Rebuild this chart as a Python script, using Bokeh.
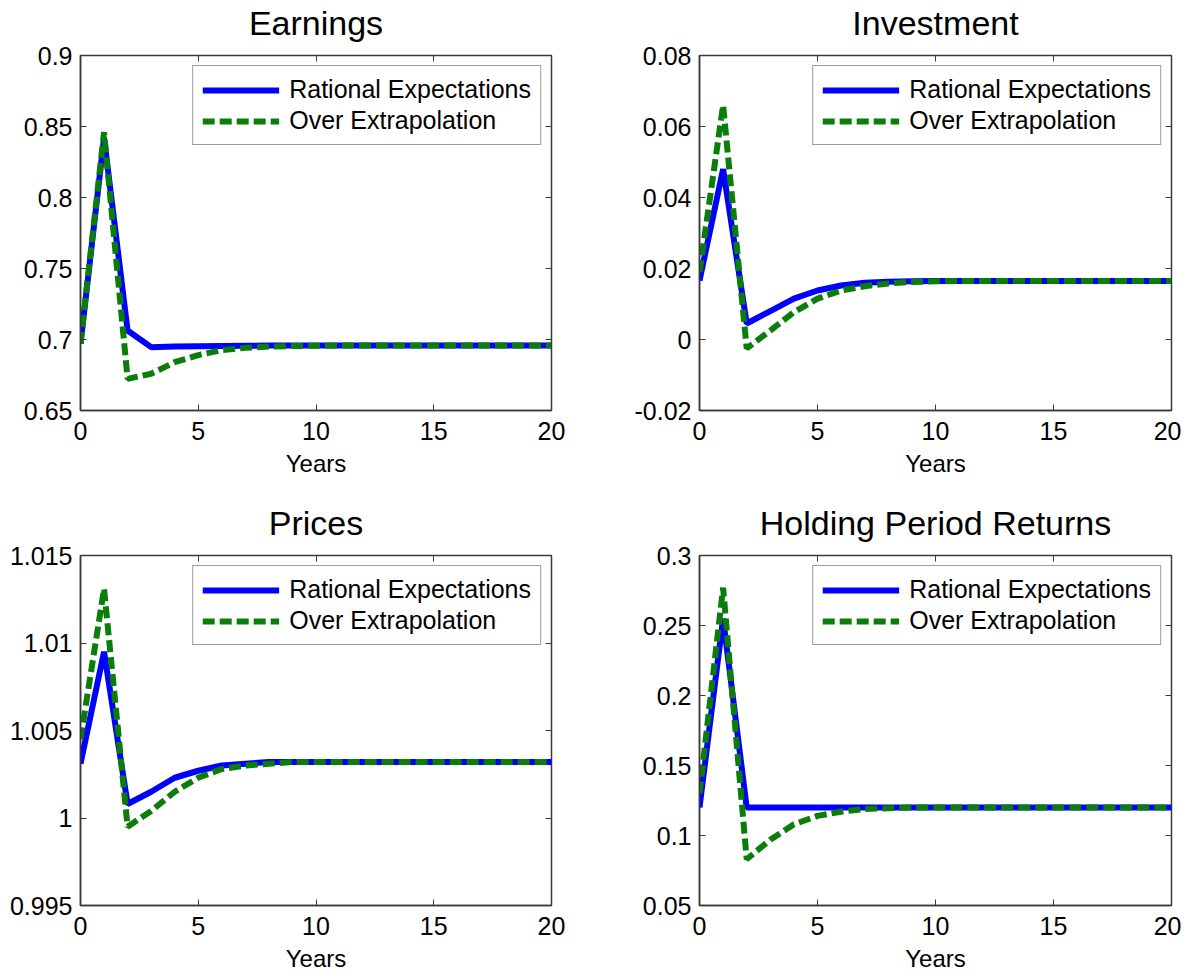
from bokeh.plotting import figure
from bokeh.models import FixedTicker, LinearAxis, Legend, LegendItem, Range1d, CustomLabelingPolicy
from bokeh.layouts import column, row
from bokeh.embed import file_html
from bokeh.resources import INLINE

years = list(range(21))

earn_re = [0.697, 0.842, 0.7063, 0.6946, 0.6950, 0.6953, 0.6955, 0.6956, 0.6957, 0.6957, 0.6958,
           0.6958, 0.6958, 0.6958, 0.6958, 0.6958, 0.6958, 0.6958, 0.6958, 0.6958, 0.6958]
earn_oe = [0.697, 0.846, 0.6723, 0.6759, 0.684, 0.689, 0.6925, 0.6941, 0.6950, 0.6954, 0.6956,
           0.6957, 0.6958, 0.6958, 0.6958, 0.6958, 0.6958, 0.6958, 0.6958, 0.6958, 0.6958]

inv_re = [0.0166, 0.048, 0.0045, 0.0080, 0.0115, 0.0138, 0.0152, 0.0160, 0.0163, 0.0164, 0.0165,
          0.0165, 0.0165, 0.0165, 0.0165, 0.0165, 0.0165, 0.0165, 0.0165, 0.0165, 0.0165]
inv_oe = [0.019, 0.066, -0.0025, 0.0025, 0.0077, 0.0115, 0.0138, 0.0150, 0.0158, 0.0162, 0.0164,
          0.0165, 0.0165, 0.0165, 0.0165, 0.0165, 0.0165, 0.0165, 0.0165, 0.0165, 0.0165]

price_re = [1.0031, 1.0095, 1.0008, 1.0015, 1.0023, 1.0027, 1.0030, 1.0031, 1.0032, 1.0032, 1.0032,
            1.0032, 1.0032, 1.0032, 1.0032, 1.0032, 1.0032, 1.0032, 1.0032, 1.0032, 1.0032]
price_oe = [1.0045, 1.0131, 0.9995, 1.0004, 1.0015, 1.0023, 1.0028, 1.0030, 1.0031, 1.0032, 1.0032,
            1.0032, 1.0032, 1.0032, 1.0032, 1.0032, 1.0032, 1.0032, 1.0032, 1.0032, 1.0032]

hpr_re = [0.120, 0.255, 0.120, 0.120, 0.120, 0.120, 0.120, 0.120, 0.120, 0.120, 0.120,
          0.120, 0.120, 0.120, 0.120, 0.120, 0.120, 0.120, 0.120, 0.120, 0.120]
hpr_oe = [0.130, 0.277, 0.083, 0.097, 0.108, 0.114, 0.117, 0.119, 0.1195, 0.120, 0.120,
          0.120, 0.120, 0.120, 0.120, 0.120, 0.120, 0.120, 0.120, 0.120, 0.120]

x_ticks = [0, 5, 10, 15, 20]
x_tick_labels = ["0", "5", "10", "15", "20"]

earn_ticks = [0.65, 0.7, 0.75, 0.8, 0.85, 0.9]
earn_labels = ["0.65", "0.7", "0.75", "0.8", "0.85", "0.9"]
inv_ticks = [-0.02, 0.0, 0.02, 0.04, 0.06, 0.08]
inv_labels = ["-0.02", "0", "0.02", "0.04", "0.06", "0.08"]
price_ticks = [0.995, 1.0, 1.005, 1.01, 1.015]
price_labels = ["0.995", "1", "1.005", "1.01", "1.015"]
hpr_ticks = [0.05, 0.1, 0.15, 0.2, 0.25, 0.3]
hpr_labels = ["0.05", "0.1", "0.15", "0.2", "0.25", "0.3"]

titles = ["Earnings", "Investment", "Prices", "Holding Period Returns"]
series_names = ["Rational Expectations", "Over Extrapolation"]

FONT = "Liberation Sans"
FRAME = "#3a3a3a"
BLUE = "#0000FF"
GREEN = "#0A7D0A"

NO_LABELS = CustomLabelingPolicy(
    code="const n = indices.size; for (let i = 0; i < n; i++) { indices.unset(i) } return indices")


def panel(title, re, oe, yt, yl, w, h, bl, br, bt, bb):
    p = figure(width=w, height=h, output_backend="svg", toolbar_location=None,
               x_range=Range1d(0, 20), y_range=Range1d(yt[0], yt[-1]),
               min_border_left=bl, min_border_right=br, min_border_top=bt, min_border_bottom=bb)
    p.xgrid.visible = False
    p.ygrid.visible = False
    p.outline_line_color = FRAME
    p.outline_line_width = 1.5
    p.background_fill_color = "white"
    p.border_fill_color = "white"

    xa = p.xaxis[0]
    ya = p.yaxis[0]
    xa.ticker = FixedTicker(ticks=x_ticks)
    xa.major_label_overrides = {t: l for t, l in zip(x_ticks, x_tick_labels)}
    ya.ticker = FixedTicker(ticks=yt)
    ya.major_label_overrides = {t: l for t, l in zip(yt, yl)}
    for ax in (xa, ya):
        ax.major_tick_in = 6
        ax.major_tick_out = 0
        ax.minor_tick_in = 0
        ax.minor_tick_out = 0
        ax.major_tick_line_color = FRAME
        ax.axis_line_color = FRAME
        ax.axis_line_width = 1.5
        ax.major_label_text_font = FONT
        ax.major_label_text_font_size = "25px"
        ax.major_label_text_color = "black"
    xa.major_label_standoff = 11
    ya.major_label_standoff = 8
    xa.axis_label = "Years"
    xa.axis_label_text_font = FONT
    xa.axis_label_text_font_size = "24px"
    xa.axis_label_text_font_style = "normal"
    xa.axis_label_text_color = "black"
    xa.axis_label_standoff = 7

    # box-style tick marks on the right edge
    rax = LinearAxis(ticker=FixedTicker(ticks=yt), major_tick_in=6, major_tick_out=0,
                     minor_tick_in=0, minor_tick_out=0, axis_line_color=None,
                     major_tick_line_color=FRAME, major_label_text_font_size="0px",
                     major_label_standoff=0, major_label_policy=NO_LABELS)
    p.add_layout(rax, "right")
    # top edge: tick marks, with the panel title as the axis label
    tax = LinearAxis(ticker=FixedTicker(ticks=x_ticks), major_tick_in=6, major_tick_out=0,
                     minor_tick_in=0, minor_tick_out=0, axis_line_color=None,
                     major_tick_line_color=FRAME, major_label_text_font_size="0px",
                     major_label_standoff=0, major_label_policy=NO_LABELS,
                     axis_label=title, axis_label_text_font=FONT,
                     axis_label_text_font_size="34px", axis_label_text_font_style="normal",
                     axis_label_text_color="black", axis_label_standoff=14)
    p.add_layout(tax, "above")

    r1 = p.line(years, re, line_color=BLUE, line_width=6)
    r2 = p.line(years, oe, line_color=GREEN, line_width=6, line_dash="12 5")

    leg = Legend(items=[LegendItem(label=series_names[0], renderers=[r1]),
                        LegendItem(label=series_names[1], renderers=[r2])],
                 location="top_right")
    leg.label_text_font = FONT
    leg.label_text_font_size = "25px"
    leg.label_text_color = "black"
    leg.glyph_width = 77
    leg.glyph_height = 28
    leg.label_height = 28
    leg.label_standoff = 10
    leg.spacing = 2
    leg.padding = 9
    leg.margin = 10
    leg.border_line_color = FRAME
    leg.border_line_width = 1.5
    leg.background_fill_color = "white"
    leg.background_fill_alpha = 1.0
    p.add_layout(leg, "center")
    return p


p1 = panel(titles[0], earn_re, earn_oe, earn_ticks, earn_labels, 628, 498, 80, 77, 55, 88)
p2 = panel(titles[1], inv_re, inv_oe, inv_ticks, inv_labels, 553, 498, 71, 10, 55, 88)
p3 = panel(titles[2], price_re, price_oe, price_ticks, price_labels, 628, 476, 80, 77, 57, 64)
p4 = panel(titles[3], hpr_re, hpr_oe, hpr_ticks, hpr_labels, 553, 476, 71, 10, 57, 64)

layout = column(row(p1, p2), row(p3, p4))

open("out.html", "w").write(file_html(layout, INLINE))
